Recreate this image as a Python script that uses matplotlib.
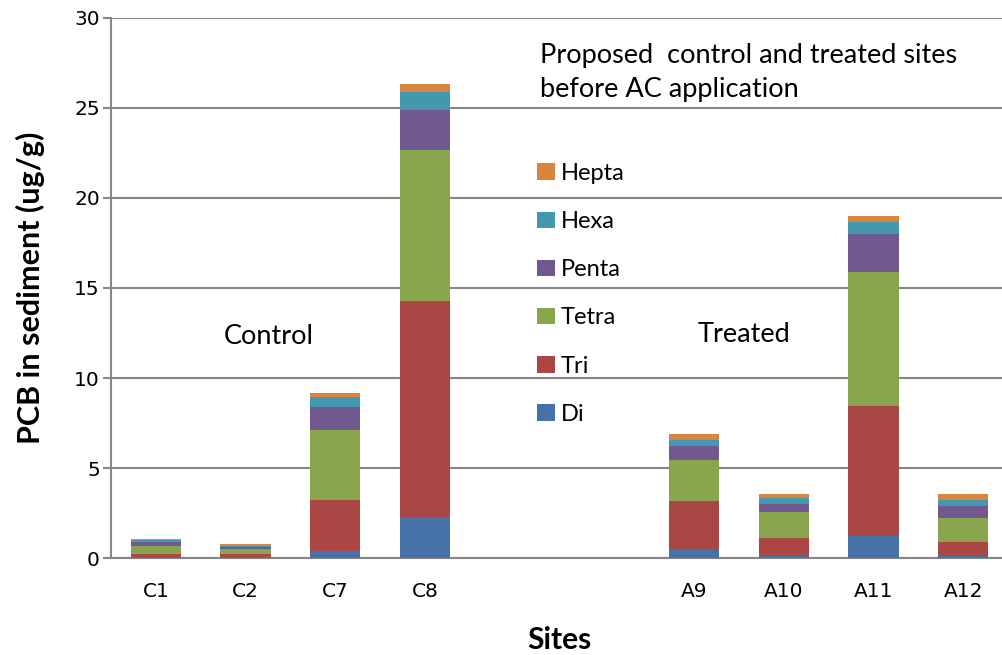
import matplotlib
matplotlib.use("Agg")
import matplotlib.pyplot as plt
from matplotlib.patches import Patch
import numpy as np

sites = ["C1", "C2", "C7", "C8", "", "", "A9", "A10", "A11", "A12"]
di    = [0.05, 0.05, 0.37, 2.28, 0, 0, 0.50, 0.13, 1.24, 0.13]
tri   = [0.17, 0.17, 2.87, 11.98, 0, 0, 2.66, 1.00, 7.20, 0.78]
tetra = [0.43, 0.30, 3.89, 8.42, 0, 0, 2.29, 1.44, 7.46, 1.33]
penta = [0.22, 0.11, 1.24, 2.22, 0, 0, 0.75, 0.43, 2.10, 0.66]
hexa  = [0.11, 0.05, 0.55, 1.00, 0, 0, 0.35, 0.35, 0.67, 0.34]
hepta = [0.10, 0.10, 0.22, 0.45, 0, 0, 0.35, 0.22, 0.33, 0.33]

series = [("Di", di, "#4572A7"), ("Tri", tri, "#AA4643"), ("Tetra", tetra, "#89A54E"),
          ("Penta", penta, "#71588F"), ("Hexa", hexa, "#4198AF"), ("Hepta", hepta, "#DB843D")]

fig = plt.figure(figsize=(10.02, 6.55), dpi=100)
ax = fig.add_axes([111/1002, 97/655, 897/1002, 540/655])

x = np.arange(len(sites))
bottom = np.zeros(len(sites))
for name, vals, col in series:
    v = np.array(vals)
    ax.bar(x, v, width=0.56, bottom=bottom, color=col, edgecolor="none", zorder=3)
    bottom += v

ax.set_xlim(-0.5, len(sites) - 0.5)
ax.set_ylim(0, 30)
ax.set_yticks(np.arange(0, 31, 5))
ax.yaxis.grid(True, color="#868686", linewidth=1.5, zorder=0)
ax.set_axisbelow(True)
for s in ["top", "right"]:
    ax.spines[s].set_visible(False)
for s in ["left", "bottom"]:
    ax.spines[s].set_color("#868686")
    ax.spines[s].set_linewidth(1.5)
ax.set_xticks(x)
ax.set_xticklabels(sites)
ax.tick_params(axis="x", length=0, pad=17, labelsize=14.5)
ax.tick_params(axis="y", length=6, width=1.5, color="#868686", pad=2, labelsize=14.5)

fig.text(30/1002, 1 - 288/655, "PCB in sediment (ug/g)", fontsize=22, fontweight="bold",
         family="Lato", rotation=90, va="center", ha="center")
fig.text(559/1002, 1 - 640/655, "Sites", fontsize=21.5, fontweight="bold", family="Lato",
         va="center", ha="center")

fig.text(540/1002, 1 - 55/655, "Proposed  control and treated sites", fontsize=19.5, family="Lato",
         va="center", ha="left")
fig.text(540/1002, 1 - 90/655, "before AC application", fontsize=19.5, family="Lato",
         va="center", ha="left")
fig.text(269/1002, 1 - 337/655, "Control", fontsize=19.5, family="Lato", va="center", ha="center")
fig.text(744/1002, 1 - 335/655, "Treated", fontsize=19.5, family="Lato", va="center", ha="center")

handles = [Patch(facecolor=c, edgecolor="none", label=n) for n, v, c in series][::-1]
ax.legend(handles=handles, loc="upper left", bbox_to_anchor=(537/1002, 1 - 163/655),
          bbox_transform=fig.transFigure, frameon=False,
          prop={"family": "Lato", "size": 17}, handlelength=0.75, handleheight=0.7,
          handletextpad=0.25, labelspacing=1.15, borderpad=0, borderaxespad=0)

fig.savefig("out.png", dpi=100)
